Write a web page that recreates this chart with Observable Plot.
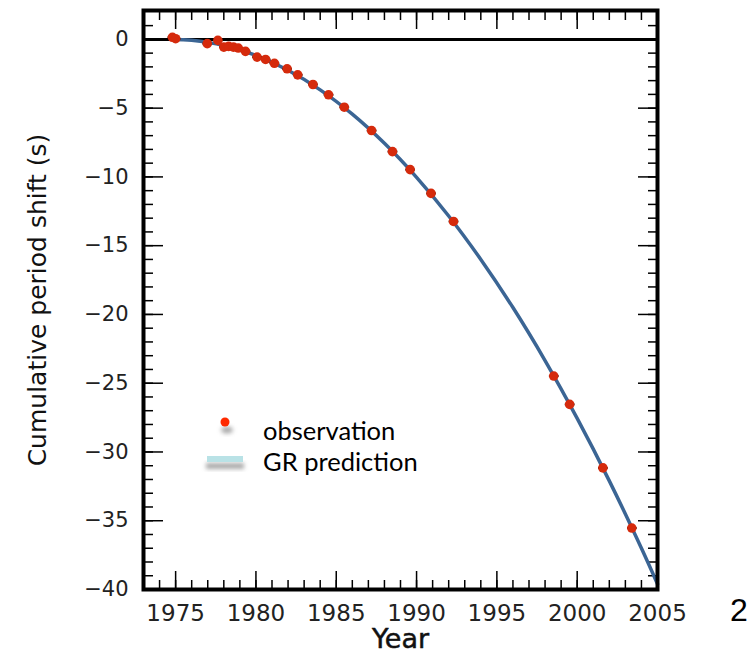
<!DOCTYPE html>
<html>
<head>
<meta charset="utf-8">
<script src="https://cdn.jsdelivr.net/npm/d3@7"></script>
<script src="https://cdn.jsdelivr.net/npm/@observablehq/plot@0.6"></script>
<style>
  html, body { margin: 0; padding: 0; background: #fff; }
</style>
</head>
<body>
<div id="chart"></div>
<script>
// Observations (year, cumulative period shift in s)
const obsYears = [1974.8, 1975.0, 1976.97, 1977.63, 1978.0, 1978.3, 1978.6, 1978.9, 1979.35, 1980.07, 1980.6, 1981.15, 1981.94, 1982.6, 1983.55, 1984.52, 1985.5, 1987.2, 1988.5, 1989.6, 1990.9, 1992.3, 1998.54, 1999.53, 2001.6, 2003.4];
const obsShift = [0.15, 0.05, -0.31, -0.07, -0.56, -0.51, -0.56, -0.63, -0.87, -1.29, -1.46, -1.74, -2.14, -2.58, -3.28, -4.03, -4.93, -6.63, -8.16, -9.47, -11.2, -13.24, -24.48, -26.54, -31.16, -35.53];
const obsErr = 0.3; // half-width of the horizontal error bars, in years

// GR prediction curve
const grYears = [1974.8, 1976, 1978, 1980, 1982, 1984, 1986, 1988, 1990, 1992, 1994, 1996, 1998, 2000, 2002, 2004, 2005];
const grShift = [0, -0.06, -0.44, -1.17, -2.25, -3.67, -5.44, -7.56, -10.03, -12.84, -16.0, -19.5, -23.35, -27.56, -32.1, -37.0, -39.6];

// Axes
const xMajor = [1975, 1980, 1985, 1990, 1995, 2000, 2005];
const xMinor = d3.range(1974, 2005);
const yMajor = [0, -5, -10, -15, -20, -25, -30, -35, -40];
const yMinor = d3.range(-39, 2);

const xLabel = "Year";
const yLabel = "Cumulative period shift (s)";
const legendLabels = ["observation", "GR prediction"];
const sideNote = "2";

const obs = obsYears.map((x, i) => ({x, y: obsShift[i]}));
const gr = grYears.map((x, i) => ({x, y: grShift[i]}));

const W = 753, H = 663;
const tickFont = "DejaVu Sans, Bitstream Vera Sans, sans-serif";

const tickStyle = {text: null, label: null, strokeWidth: 1.5, stroke: "#000"};

const plot = Plot.plot({
  width: W,
  height: H,
  marginLeft: 143,
  marginRight: 96,
  marginTop: 10,
  marginBottom: 74,
  style: {fontFamily: tickFont, fontSize: "21px", color: "#222", background: "#fff", overflow: "visible"},
  x: {domain: [1973, 2005]},
  y: {domain: [-40, 2.1]},
  marks: [
    // tick labels
    Plot.axisX({ticks: xMajor, tickSize: 0, tickPadding: 15, tickFormat: d => String(d), label: null, fontSize: 23}),
    Plot.axisY({ticks: yMajor, tickSize: 0, tickPadding: 15, label: null, fontSize: 21}),
    // inward ticks on all four sides
    Plot.axisX({anchor: "bottom", ticks: xMinor, tickSize: -9, ...tickStyle}),
    Plot.axisX({anchor: "bottom", ticks: xMajor, tickSize: -18, ...tickStyle}),
    Plot.axisX({anchor: "top", ticks: xMinor, tickSize: -9, ...tickStyle}),
    Plot.axisX({anchor: "top", ticks: xMajor, tickSize: -18, ...tickStyle}),
    Plot.axisY({anchor: "left", ticks: yMinor, tickSize: -10, ...tickStyle}),
    Plot.axisY({anchor: "left", ticks: yMajor, tickSize: -20, ...tickStyle}),
    Plot.axisY({anchor: "right", ticks: yMinor, tickSize: -10, ...tickStyle}),
    Plot.axisY({anchor: "right", ticks: yMajor, tickSize: -20, ...tickStyle}),
    // zero line
    Plot.ruleY([0], {stroke: "#000", strokeWidth: 3}),
    // GR prediction
    Plot.line(gr, {x: "x", y: "y", stroke: "#3b6594", strokeWidth: 3.5, curve: "catmull-rom"}),
    // error bars
    Plot.link(obs, {x1: d => d.x - obsErr, x2: d => d.x + obsErr, y1: "y", y2: "y", stroke: "#000", strokeWidth: 2}),
    // observations
    Plot.dot(obs, {x: "x", y: "y", r: 4.8, fill: "#d52a0c", stroke: "none"}),
    // frame
    Plot.frame({stroke: "#000", strokeWidth: 4}),
    // axis titles
    Plot.text([yLabel], {frameAnchor: "left", dx: -106, rotate: -90, textAnchor: "middle", lineAnchor: "middle", fontSize: 25, fill: "#111", fontFamily: tickFont}),
    Plot.text([xLabel], {frameAnchor: "bottom", dy: 50, textAnchor: "middle", lineAnchor: "middle", fontSize: 27, fill: "#111", stroke: "#111", strokeWidth: 0.5, fontFamily: tickFont})
  ]
});

const svg = d3.select(plot);
// legend (inside plot area)
const defs = svg.append("defs");
defs.append("filter").attr("id", "blur").attr("x", "-50%").attr("y", "-50%").attr("width", "200%").attr("height", "200%")
  .append("feGaussianBlur").attr("stdDeviation", 2);
const lg = svg.append("g").attr("font-family", "Lato, Open Sans, sans-serif").attr("font-size", 25.5).attr("fill", "#000").attr("text-anchor", "start");
lg.append("ellipse").attr("cx", 227).attr("cy", 430).attr("rx", 6).attr("ry", 3.5).attr("fill", "#aaa").attr("filter", "url(#blur)");
lg.append("circle").attr("cx", 225).attr("cy", 422).attr("r", 4.5).attr("fill", "#ff2a00");
lg.append("rect").attr("x", 206).attr("y", 463).attr("width", 38).attr("height", 6).attr("fill", "#aaa").attr("filter", "url(#blur)");
lg.append("rect").attr("x", 207).attr("y", 456).attr("width", 36).attr("height", 6).attr("fill", "#b9e2e6");
lg.append("text").attr("x", 263).attr("y", 440).text(legendLabels[0]);
lg.append("text").attr("x", 263).attr("y", 471).text(legendLabels[1]);
// stray slide number at right edge
svg.append("text").attr("x", 730).attr("y", 621).attr("text-anchor", "start").attr("font-family", "Liberation Sans, Arial, sans-serif").attr("font-size", 32).attr("fill", "#000").text(sideNote);

document.getElementById("chart").append(plot);
</script>
</body>
</html>
